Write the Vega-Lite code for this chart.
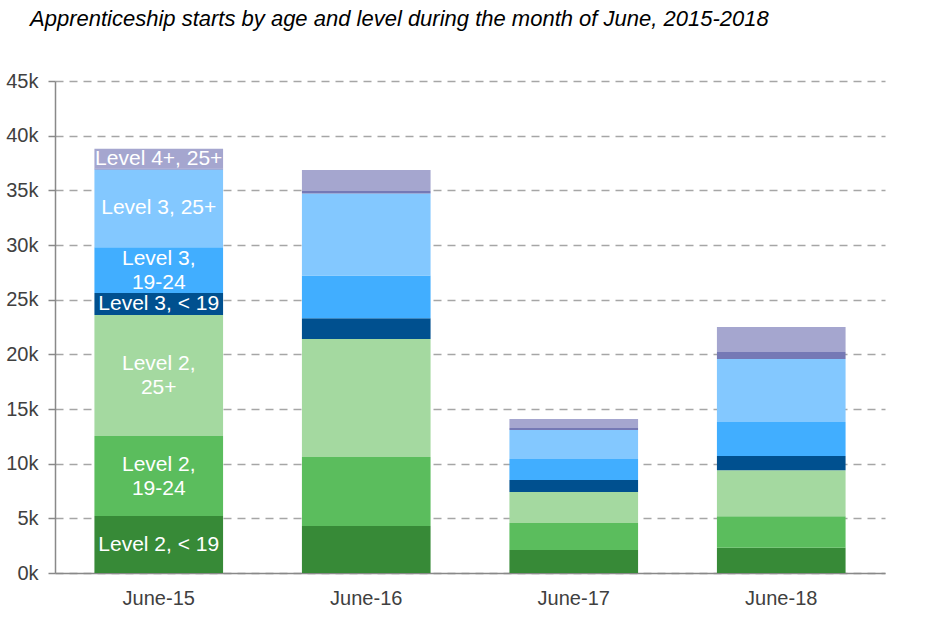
{
  "$schema": "https://vega.github.io/schema/vega-lite/v6.json",
  "width": 830,
  "height": 492,
  "autosize": {"type": "none"},
  "padding": {"left": 55, "top": 81, "right": 52, "bottom": 48},
  "background": "white",
  "title": {
    "text": "Apprenticeship starts by age and level during the month of June, 2015-2018",
    "font": "Liberation Sans",
    "fontSize": 22,
    "fontStyle": "italic",
    "fontWeight": "normal",
    "color": "#000000",
    "anchor": "start",
    "frame": "group",
    "dx": -25,
    "offset": 40
  },
  "data": {
    "values": [
      {"month": "June-15", "k": 1, "series": "Level 2, < 19", "value": 5210, "label": "Level 2, < 19"},
      {"month": "June-15", "k": 2, "series": "Level 2, 19-24", "value": 7320, "label": "Level 2,|19-24"},
      {"month": "June-15", "k": 3, "series": "Level 2, 25+", "value": 11070, "label": "Level 2,|25+"},
      {"month": "June-15", "k": 4, "series": "Level 3, < 19", "value": 2000, "label": "Level 3, < 19"},
      {"month": "June-15", "k": 5, "series": "Level 3, 19-24", "value": 4200, "label": "Level 3,|19-24"},
      {"month": "June-15", "k": 6, "series": "Level 3, 25+", "value": 7100, "label": "Level 3, 25+"},
      {"month": "June-15", "k": 7, "series": "Level 4+, 19-24", "value": 100, "label": null},
      {"month": "June-15", "k": 8, "series": "Level 4+, 25+", "value": 1800, "label": "Level 4+, 25+"},
      {"month": "June-16", "k": 1, "series": "Level 2, < 19", "value": 4300, "label": null},
      {"month": "June-16", "k": 2, "series": "Level 2, 19-24", "value": 6300, "label": null},
      {"month": "June-16", "k": 3, "series": "Level 2, 25+", "value": 10800, "label": null},
      {"month": "June-16", "k": 4, "series": "Level 3, < 19", "value": 1900, "label": null},
      {"month": "June-16", "k": 5, "series": "Level 3, 19-24", "value": 3900, "label": null},
      {"month": "June-16", "k": 6, "series": "Level 3, 25+", "value": 7500, "label": null},
      {"month": "June-16", "k": 7, "series": "Level 4+, 19-24", "value": 250, "label": null},
      {"month": "June-16", "k": 8, "series": "Level 4+, 25+", "value": 1900, "label": null},
      {"month": "June-17", "k": 1, "series": "Level 2, < 19", "value": 2100, "label": null},
      {"month": "June-17", "k": 2, "series": "Level 2, 19-24", "value": 2470, "label": null},
      {"month": "June-17", "k": 3, "series": "Level 2, 25+", "value": 2830, "label": null},
      {"month": "June-17", "k": 4, "series": "Level 3, < 19", "value": 1100, "label": null},
      {"month": "June-17", "k": 5, "series": "Level 3, 19-24", "value": 1930, "label": null},
      {"month": "June-17", "k": 6, "series": "Level 3, 25+", "value": 2650, "label": null},
      {"month": "June-17", "k": 7, "series": "Level 4+, 19-24", "value": 180, "label": null},
      {"month": "June-17", "k": 8, "series": "Level 4+, 25+", "value": 820, "label": null},
      {"month": "June-18", "k": 1, "series": "Level 2, < 19", "value": 2300, "label": null},
      {"month": "June-18", "k": 2, "series": "Level 2, 19-24", "value": 2900, "label": null},
      {"month": "June-18", "k": 3, "series": "Level 2, 25+", "value": 4200, "label": null},
      {"month": "June-18", "k": 4, "series": "Level 3, < 19", "value": 1300, "label": null},
      {"month": "June-18", "k": 5, "series": "Level 3, 19-24", "value": 3100, "label": null},
      {"month": "June-18", "k": 6, "series": "Level 3, 25+", "value": 5770, "label": null},
      {"month": "June-18", "k": 7, "series": "Level 4+, 19-24", "value": 640, "label": null},
      {"month": "June-18", "k": 8, "series": "Level 4+, 25+", "value": 2300, "label": null}
    ]
  },
  "transform": [
    {"stack": "value", "groupby": ["month"], "sort": [{"field": "k", "order": "ascending"}], "as": ["v0", "v1"]},
    {"calculate": "(datum.v0 + datum.v1) / 2", "as": "mid"}
  ],
  "encoding": {
    "x": {
      "field": "month",
      "type": "nominal",
      "sort": ["June-15", "June-16", "June-17", "June-18"],
      "scale": {"paddingInner": 0.38, "paddingOuter": 0.19},
      "axis": {
        "title": null,
        "labelAngle": 0,
        "ticks": false,
        "domainColor": "#898989",
        "domainWidth": 1.5,
        "labelFont": "Liberation Sans",
        "labelFontSize": 20,
        "labelColor": "#404040",
        "labelPadding": 15,
        "grid": false
      }
    }
  },
  "layer": [
    {
      "mark": {"type": "bar"},
      "encoding": {
        "y": {
          "field": "v0",
          "type": "quantitative",
          "scale": {"domain": [0, 45000], "nice": false},
          "axis": {
            "title": null,
            "values": [0, 5000, 10000, 15000, 20000, 25000, 30000, 35000, 40000, 45000],
            "labelExpr": "datum.value / 1000 + 'k'",
            "domainColor": "#898989",
            "domainWidth": 1.5,
            "tickColor": "#898989",
            "tickWidth": 1.5,
            "tickSize": 7,
            "labelFont": "Liberation Sans",
            "labelFontSize": 20,
            "labelColor": "#404040",
            "labelPadding": 10,
            "grid": true,
            "gridColor": "#A6A6A6",
            "gridWidth": 1.5,
            "gridDash": [8, 6]
          }
        },
        "y2": {"field": "v1"},
        "color": {
          "field": "series",
          "type": "nominal",
          "scale": {
            "domain": ["Level 2, < 19", "Level 2, 19-24", "Level 2, 25+", "Level 3, < 19", "Level 3, 19-24", "Level 3, 25+", "Level 4+, 19-24", "Level 4+, 25+"],
            "range": ["#378A37", "#5BBD5D", "#A4D9A0", "#00508F", "#41AEFF", "#83C8FF", "#7579B5", "#A5A6CF"]
          },
          "legend": null
        }
      }
    },
    {
      "transform": [{"filter": "datum.label != null && indexof(datum.label, '|') < 0"}],
      "mark": {
        "type": "text",
        "color": "white",
        "font": "Liberation Sans",
        "fontSize": 21,
        "baseline": "middle",
        "align": "center"
      },
      "encoding": {
        "y": {"field": "mid", "type": "quantitative"},
        "text": {"field": "label", "type": "nominal"}
      }
    },
    {
      "transform": [{"filter": "datum.label != null && indexof(datum.label, '|') >= 0"}],
      "mark": {
        "type": "text",
        "color": "white",
        "font": "Liberation Sans",
        "fontSize": 21,
        "lineBreak": "|",
        "lineHeight": 24,
        "baseline": "middle",
        "align": "center",
        "dy": -11
      },
      "encoding": {
        "y": {"field": "mid", "type": "quantitative"},
        "text": {"field": "label", "type": "nominal"}
      }
    }
  ],
  "config": {
    "view": {"stroke": null}
  }
}
